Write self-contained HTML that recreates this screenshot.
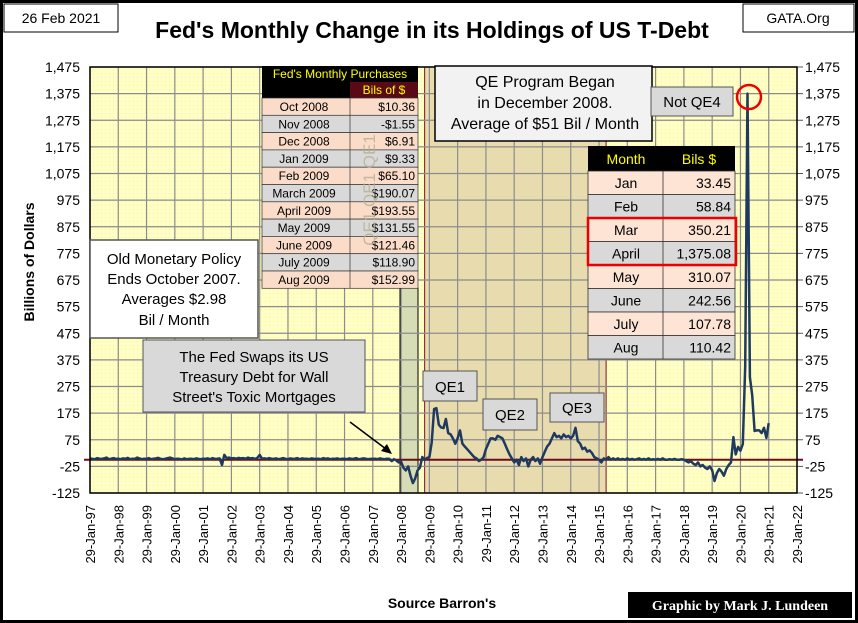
<!DOCTYPE html>
<html><head><meta charset="utf-8"><style>
body{margin:0;background:#fff}
svg{display:block;font-family:"Liberation Sans",sans-serif}
</style></head><body>
<svg id="c" width="858" height="623" viewBox="0 0 858 623">
<defs><pattern id="tex" width="4" height="4" patternUnits="userSpaceOnUse"><rect width="4" height="4" fill="#ffffc4"/><rect x="1" y="1" width="1" height="1" fill="#f3f0b8"/></pattern></defs>
<rect x="1.5" y="1.5" width="855" height="620" fill="#fff" stroke="#000" stroke-width="3"/>
<rect x="90" y="67" width="707" height="426" fill="url(#tex)"/>
<g id="shade"></g>
<g id="grid"></g>
<g id="axes"></g>
<path id="line" fill="none" stroke="#1f3a5f" stroke-width="2.5" stroke-linejoin="round"/>
<rect x="90" y="67" width="707" height="426" fill="none" stroke="#000" stroke-width="1.5"/>

<rect x="4" y="4" width="114" height="28" fill="#fff" stroke="#000"/>
<text x="61" y="23" font-size="14" text-anchor="middle">26 Feb 2021</text>
<rect x="743" y="4" width="111" height="28" fill="#fff" stroke="#000"/>
<text x="798" y="23" font-size="14" text-anchor="middle">GATA.Org</text>
<text x="432" y="38" font-size="23" font-weight="bold" text-anchor="middle">Fed's Monthly Change in its Holdings of US T-Debt</text>
<text transform="translate(34,262) rotate(-90)" font-size="14" font-weight="bold" text-anchor="middle">Billions  of Dollars</text>
<text x="442" y="608" font-size="14" font-weight="bold" text-anchor="middle">Source Barron's</text>
<rect x="628" y="592" width="224" height="26" fill="#000"/>
<text x="740" y="610" font-size="14" font-weight="bold" fill="#fff" text-anchor="middle" font-family="Liberation Serif,serif">Graphic by Mark J. Lundeen</text>

<g id="ltab"></g>
<g id="rtab"></g>

<rect x="435" y="66" width="217" height="75" fill="#f2f2f2" stroke="#000" stroke-width="1.5"/>
<g font-size="16" text-anchor="middle">
<text x="545" y="87">QE Program Began</text><text x="545" y="108">in December 2008.</text><text x="545" y="129">Average of $51 Bil / Month</text></g>
<rect x="651" y="87" width="82" height="29" fill="#d9d9d9" stroke="#555"/>
<text x="692" y="107" font-size="15" text-anchor="middle">Not QE4</text>
<circle cx="749" cy="97" r="12" fill="none" stroke="#e00" stroke-width="2.5"/>

<rect x="90" y="240" width="168" height="98" fill="#fff" stroke="#555" stroke-width="1.5"/>
<g font-size="15" text-anchor="middle"><text x="174" y="264">Old Monetary Policy</text><text x="174" y="284">Ends October 2007.</text><text x="174" y="304">Averages $2.98</text><text x="174" y="325">Bil / Month</text></g>
<rect x="143" y="340" width="222" height="72" fill="#d9d9d9" stroke="#555"/>
<g font-size="15" text-anchor="middle"><text x="254" y="362">The Fed Swaps its US</text><text x="254" y="382">Treasury Debt for Wall</text><text x="254" y="402">Street's Toxic Mortgages</text></g>
<line x1="350" y1="422" x2="390" y2="452" stroke="#000" stroke-width="1.5"/>
<path d="M392 454 L381 451 L387 444 Z" fill="#000"/>
<rect x="423" y="371" width="54" height="30" fill="#d9d9d9" stroke="#555"/>
<text x="450" y="392" font-size="15" text-anchor="middle">QE1</text>
<rect x="483" y="399" width="54" height="31" fill="#d9d9d9" stroke="#555"/>
<text x="510" y="420" font-size="15" text-anchor="middle">QE2</text>
<rect x="550" y="393" width="54" height="29" fill="#d9d9d9" stroke="#555"/>
<text x="577" y="413" font-size="15" text-anchor="middle">QE3</text>
</svg>
<script>
const yTicks=[-125,-25,75,175,275,375,475,575,675,775,875,975,1075,1175,1275,1375,1475];
const yearLabels=["97","98","99","00","01","02","03","04","05","06","07","08","09","10","11","12","13","14","15","16","17","18","19","20","21","22"];
const monthlyChange=[
5,3,2,6,4,3,5,8,2,4,6,3,
4,2,5,3,7,2,4,3,8,5,2,4,
3,6,2,4,5,7,3,2,4,6,8,5,
2,4,3,1,5,2,3,4,2,5,3,2,
4,3,5,2,6,3,4,5,-20,18,6,8,
5,6,4,7,5,6,4,8,5,6,3,7,
18,4,5,3,6,4,3,5,2,4,6,3,
2,5,3,4,6,2,5,3,4,2,5,3,
3,4,2,6,3,5,2,4,3,5,2,4,
4,2,5,3,4,6,2,3,5,4,2,3,
3,4,2,5,3,2,4,3,-5,2,-3,-10,
-8,-30,-40,-25,-60,-88,-70,-40,-30,10.36,-1.55,6.91,
9.33,65.1,190.07,193.55,131.55,121.46,118.9,152.99,100,95,80,60,
80,110,60,50,40,30,20,10,5,-5,0,10,
40,60,80,80,75,90,85,80,60,40,20,5,
-10,0,-20,10,-5,5,-25,0,10,-5,5,-15,
10,30,50,60,80,100,85,90,80,95,85,90,
80,90,120,70,60,40,45,30,35,25,10,5,
0,-10,5,0,10,0,5,0,5,0,3,0,
5,0,3,0,2,5,0,3,0,5,0,2,
0,3,0,5,0,0,2,0,3,0,0,2,
0,-5,-10,-5,-15,-20,-10,-25,-20,-30,-35,-25,
-40,-80,-50,-35,-45,-60,-35,-20,-10,85,20,48,
33.45,58.84,350.21,1375.08,310.07,242.56,107.78,110.42,110,100,120,82,
137];
const tblMonths=["Oct 2008","Nov 2008","Dec 2008","Jan 2009","Feb 2009","March 2009","April 2009","May 2009","June 2009","July 2009","Aug 2009"];
const tblValues=["$10.36","-$1.55","$6.91","$9.33","$65.10","$190.07","$193.55","$131.55","$121.46","$118.90","$152.99"];
const t20Months=["Jan","Feb","Mar","April","May","June","July","Aug"];
const t20Values=["33.45","58.84","350.21","1,375.08","310.07","242.56","107.78","110.42"];

const NS="http://www.w3.org/2000/svg";
const X0=90,X1=797,Y0=493,Y1=67;
const yS=v=>Y0-(v+125)/1600*(Y0-Y1);
const xS=m=>X0+m/(25*12)*(X1-X0);
function mk(tag,attrs,parent,txt){const e=document.createElementNS(NS,tag);for(const k in attrs)e.setAttribute(k,attrs[k]);if(txt!==undefined)e.textContent=txt;parent.appendChild(e);return e;}
const shade=document.getElementById('shade'),grid=document.getElementById('grid'),axes=document.getElementById('axes');
let e=mk('rect',{x:xS(142),y:Y1,width:xS(219)-xS(142),height:Y0-Y1,fill:'#e8dcae',stroke:'#7a1020','stroke-width':1},shade);


e=mk('rect',{x:400,y:288,width:18,height:Y0-288,fill:'#d6dcb4',stroke:'#000','stroke-width':1},shade);


yTicks.forEach(v=>{
 const y=yS(v);
 e=mk('line',{x1:X0,x2:X1,y1:y,y2:y,stroke:'#8c8c8c','stroke-width':1.2},grid);
 
 
 const lab=v.toLocaleString('en-US');
 e=mk('text',{x:80,y:y+5,'font-size':14,'text-anchor':'end'},axes,lab);
 
 
 e=mk('text',{x:805,y:y+5,'font-size':14},axes,lab);
 
 
 mk('line',{x1:X1,x2:X1+6,y1:y,y2:y,stroke:'#555'},axes);
});
yearLabels.forEach((yr,i)=>{
 const x=xS(i*12);
 e=mk('line',{x1:x,x2:x,y1:Y1,y2:Y0,stroke:'#8c8c8c','stroke-width':1.2},grid);
 
 
 e=mk('text',{transform:`translate(${x+5},505) rotate(-90)`,'font-size':13,'text-anchor':'end'},axes,'29-Jan-'+yr);
 
 
});
e=mk('line',{x1:X0-6,x2:X1+6,y1:yS(0),y2:yS(0),stroke:'#6b0d1e','stroke-width':2},grid);


document.getElementById('line').setAttribute('d',monthlyChange.map((v,i)=>(i?'L':'M')+xS(i).toFixed(1)+' '+yS(v).toFixed(1)).join(''));

const lt=document.getElementById('ltab');
mk('rect',{x:262,y:66,width:156,height:16,fill:'#000'},lt);
mk('text',{x:340,y:78,'font-size':12,fill:'#ff0','text-anchor':'middle'},lt,"Fed's Monthly Purchases");
mk('rect',{x:262,y:82,width:156,height:16,fill:'#000'},lt);
mk('rect',{x:350,y:82,width:68,height:16,fill:'#5a0a14'},lt);
mk('text',{x:384,y:94,'font-size':12,fill:'#ff0','text-anchor':'middle'},lt,"Bils of $");
tblMonths.forEach((m,i)=>{
 const y=98+i*17.3;
 mk('rect',{x:262,y:y,width:156,height:17.3,fill:i%2?'#d9d9d9':'#fadcc8',stroke:'#333','stroke-width':0.7},lt);
 mk('line',{x1:350,x2:350,y1:y,y2:y+17.3,stroke:'#333','stroke-width':0.7},lt);
 e=mk('text',{x:304,y:y+13,'font-size':12,'text-anchor':'middle'},lt,m);
 
 
 e=mk('text',{x:415,y:y+13,'font-size':12,'text-anchor':'end'},lt,tblValues[i]);
 
 
});
mk('text',{transform:'translate(375,190) rotate(-90)','font-size':17,fill:'#b8b090','text-anchor':'middle','opacity':0.8},lt,"QE1  QE1  QE1");
const rt=document.getElementById('rtab');
mk('rect',{x:588,y:146,width:147,height:25,fill:'#000'},rt);
mk('text',{x:626,y:164,'font-size':14,fill:'#ff0','text-anchor':'middle'},rt,'Month');
mk('text',{x:699,y:164,'font-size':14,fill:'#ff0','text-anchor':'middle'},rt,'Bils $');
t20Months.forEach((m,i)=>{
 const y=171+i*23.5;
 mk('rect',{x:588,y:y,width:147,height:23.5,fill:i%2?'#d9d9d9':'#fde4d4',stroke:'#333','stroke-width':0.8},rt);
 mk('line',{x1:663,x2:663,y1:y,y2:y+23.5,stroke:'#333','stroke-width':0.8},rt);
 e=mk('text',{x:626,y:y+17,'font-size':14,'text-anchor':'middle'},rt,m);
 
 
 e=mk('text',{x:731,y:y+17,'font-size':14,'text-anchor':'end'},rt,t20Values[i]);
 
 
});
e=mk('rect',{x:588,y:218,width:148,height:47,fill:'none',stroke:'#e00','stroke-width':2.5},rt);


</script>
</body></html>
